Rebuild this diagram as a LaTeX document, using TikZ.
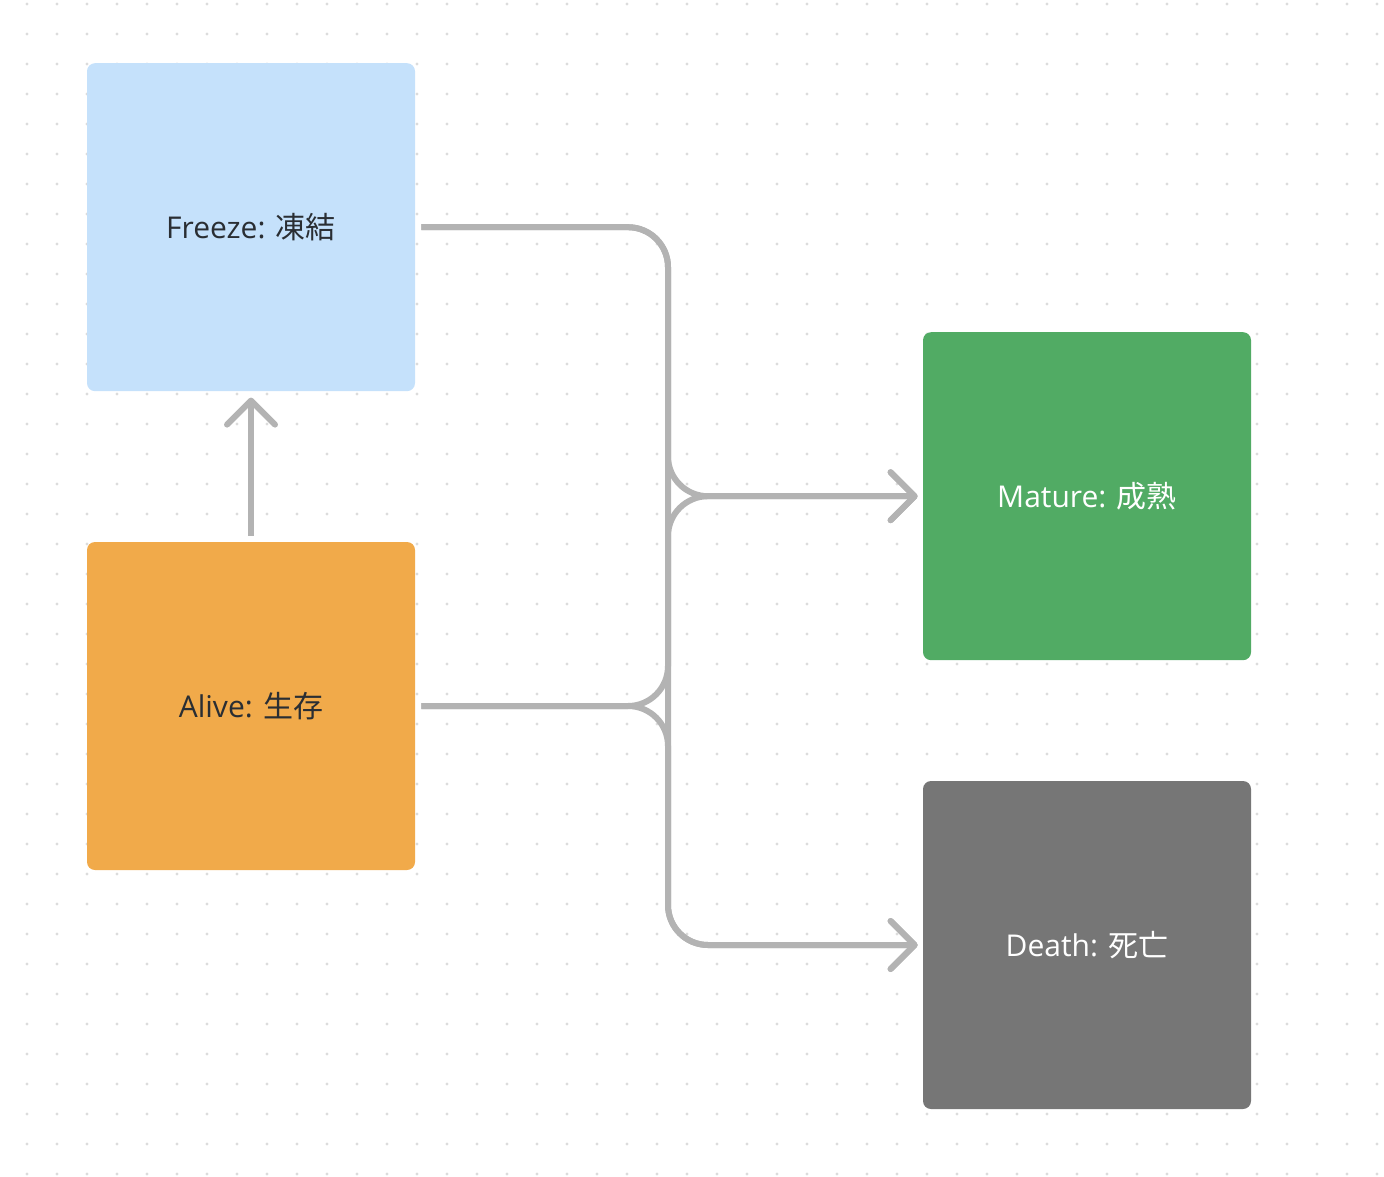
\documentclass[tikz,border=0pt]{standalone}
\usepackage{fontspec}
\setmainfont{Open Sans}
\newfontfamily\cjk{Noto Sans CJK JP}
\usetikzlibrary{arrows.meta}
\usetikzlibrary{positioning}
\definecolor{freezeblue}{HTML}{C5E1FB}
\definecolor{aliveorange}{HTML}{F1AA4A}
\definecolor{maturegreen}{HTML}{51AB64}
\definecolor{deathgray}{HTML}{767676}
\definecolor{linegray}{HTML}{B3B3B3}
\definecolor{dotgray}{HTML}{DCDCDC}
\definecolor{darktext}{HTML}{2A2E33}
\tikzset{
  part/.style={
    rectangle,
    rounded corners=4pt,
    minimum width=164pt,
    minimum height=164pt,
    node font=\fontsize{15pt}{17pt}\selectfont,
    inner sep=0,
  },
  flow/.style={
    draw,
    linegray,
    line width=3pt,
    rounded corners=20pt,
    -{Straight Barb[length=12pt,width=24pt,round]},
    shorten <=3pt,
    shorten >=2.5pt,
  },
  freeze/.style={
    part,
    fill=freezeblue,
    text=darktext,
  },
  alive/.style={
    part,
    fill=aliveorange,
    text=darktext,
  },
  mature/.style={
    part,
    fill=maturegreen,
    text=white,
  },
  death/.style={
    part,
    fill=deathgray,
    text=white,
  },
}

\begin{document}
\begin{tikzpicture}[x=0.5pt,y=-0.5pt]
  \useasboundingbox (0,0) rectangle (1384,1176);

  % dotted canvas
  \foreach \x in {27,57,...,1377}
    \foreach \y in {4,34,...,1174}
      \fill [dotgray] (\x,\y) circle (0.8pt);

  \node (alive)  [alive] at (251,706)         {Alive: {\cjk 生存}};
  \node (freeze) [freeze,above=75pt of alive] {Freeze: {\cjk 凍結}};
  \node (death)  [death] at (1087,945)        {Death: {\cjk 死亡}};
  \node (mature) [mature,above=60pt of death] {Mature: {\cjk 成熟}};

  \coordinate (bus) at (668,0);

  \path [flow] (freeze.east) -- (bus |- freeze.east) -- (bus |- death.west) -- (death.west);
  \path [flow] (freeze.east) -- (bus |- freeze.east) -- (bus |- mature.west) -- (mature.west);
  \path [flow] (alive.east) -- (bus |- alive.east) -- (bus |- mature.west) -- (mature.west);
  \path [flow] (alive.east) -- (bus |- alive.east) -- (bus |- death.west) -- (death.west);
  \path [flow,shorten >=3pt] (alive.north) -- (freeze.south);
\end{tikzpicture}
\end{document}
